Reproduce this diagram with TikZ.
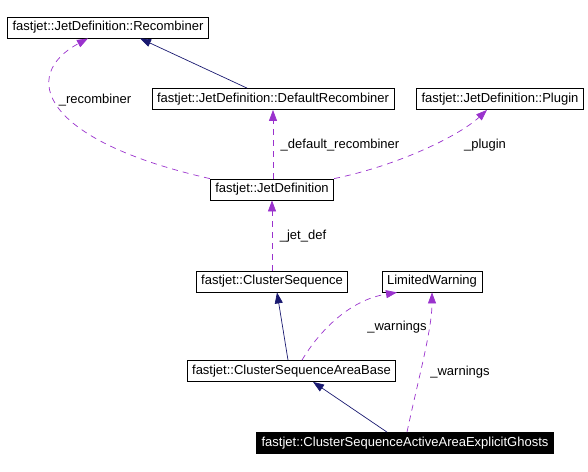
\documentclass[tikz,border=0pt]{standalone}
\usepackage{fontspec}
\setmainfont{Liberation Sans}
\usetikzlibrary{arrows.meta}
\definecolor{edgepurple}{RGB}{154,50,205}
\definecolor{edgenavy}{RGB}{25,25,112}
\begin{document}
\begin{tikzpicture}[x=1pt,y=-1pt]
		\tikzstyle{every node}+=[font=\fontsize{13}{15}\selectfont]
		\tikzstyle{classbox}=[draw=black,fill=white,line width=0.8pt,minimum height=21pt,inner xsep=5pt,inner ysep=0pt]
		\tikzstyle{usebox}=[classbox,fill=black,text=white]
		\tikzstyle{inherit}=[edgenavy,line width=0.7pt,-{Triangle[length=11pt,width=8pt]}]
		\tikzstyle{member}=[edgepurple,line width=0.7pt,dash pattern=on 6pt off 5pt,-{Triangle[length=11pt,width=8pt]}]
		\tikzstyle{lbl}=[inner sep=0pt]
		\useasboundingbox (0,0) rectangle (588,471);
		\node [classbox] (recomb) at (108,27.5) {fastjet::JetDefinition::Recombiner};
		\node [classbox] (defrecomb) at (273,99) {fastjet::JetDefinition::DefaultRecombiner};
		\node [classbox] (plugin) at (500,99) {fastjet::JetDefinition::Plugin};
		\node [classbox] (jetdef) at (272,189.5) {fastjet::JetDefinition};
		\node [classbox] (clseq) at (272,281.5) {fastjet::ClusterSequence};
		\node [classbox] (limwarn) at (432,281.5) {LimitedWarning};
		\node [classbox] (areabase) at (291.5,371) {fastjet::ClusterSequenceAreaBase};
		\node [usebox] (explghosts) at (405,443) {fastjet::ClusterSequenceActiveAreaExplicitGhosts};
		% inheritance
		\draw [inherit] ([xshift=-26pt]defrecomb.north) -- ([xshift=32pt]recomb.south);
		\draw [inherit] ([xshift=-3.5pt]areabase.north) -- ([xshift=5pt]clseq.south);
		\draw [inherit] ([xshift=-18pt]explghosts.north) -- ([xshift=21.5pt]areabase.south);
		% members
		\draw [member] (jetdef.north west) .. controls (40,140) and (20,75) .. ([xshift=-20pt]recomb.south);
		\draw [member] ([xshift=1pt]jetdef.north) -- ([xshift=0pt]defrecomb.south);
		\draw [member] (jetdef.north east) .. controls (400,165) and (460,135) .. ([xshift=-13pt]plugin.south);
		\draw [member] (clseq.north) -- (jetdef.south);
		\draw [member] ([xshift=10.5pt]areabase.north) .. controls (320,330) and (350,300) .. ([xshift=-35pt]limwarn.south);
		\draw [member] ([xshift=2pt]explghosts.north) .. controls (418,380) and (432,330) .. (limwarn.south);
		% labels
		\node [lbl] (lrecomb) at (95,100) {\_recombiner};
		\node [lbl] (ldefrecomb) at (340,145) {\_default\_recombiner};
		\node [lbl] (lplugin) at (485,145) {\_plugin};
		\node [lbl] (ljetdef) at (303,236) {\_jet\_def};
		\node [lbl] (lwarnA) at (397,327) {\_warnings};
		\node [lbl] (lwarnB) at (460,372) {\_warnings};
		\end{tikzpicture}
\end{document}
